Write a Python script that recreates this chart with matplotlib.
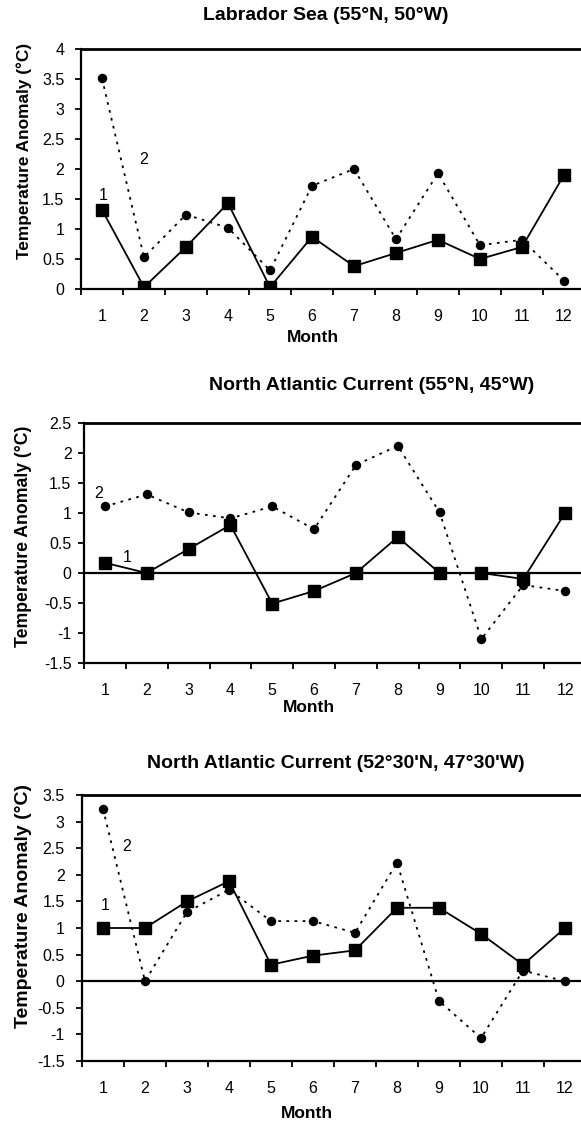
import numpy as np
import matplotlib
matplotlib.use("Agg")
import matplotlib.pyplot as plt

plt.rcParams["font.family"] = ["Liberation Sans", "DejaVu Sans"]
plt.rcParams["axes.unicode_minus"] = False

# --------------------------------------------------
# Data
# --------------------------------------------------
months = [1, 2, 3, 4, 5, 6, 7, 8, 9, 10, 11, 12]
month_labels = ["1", "2", "3", "4", "5", "6", "7", "8", "9", "10", "11", "12"]

titles = [
    "Labrador Sea (55°N, 50°W)",
    "North Atlantic Current (55°N, 45°W)",
    "North Atlantic Current (52°30'N, 47°30'W)",
]

lab_series1 = [1.32, 0.03, 0.70, 1.43, 0.03, 0.87, 0.38, 0.60, 0.82, 0.50, 0.70, 1.90]
lab_series2 = [3.51, 0.53, 1.24, 1.02, 0.31, 1.72, 2.00, 0.83, 1.93, 0.73, 0.82, 0.14]

nac_series1 = [0.17, 0.00, 0.40, 0.80, -0.51, -0.30, 0.00, 0.60, 0.00, 0.00, -0.10, 1.00]
nac_series2 = [1.11, 1.31, 1.01, 0.91, 1.11, 0.73, 1.80, 2.12, 1.01, -1.10, -0.20, -0.30]

nac2_series1 = [1.00, 1.00, 1.50, 1.88, 0.31, 0.48, 0.58, 1.38, 1.38, 0.89, 0.31, 1.00]
nac2_series2 = [3.24, 0.00, 1.30, 1.72, 1.13, 1.13, 0.91, 2.23, -0.37, -1.07, 0.20, 0.00]

ylims = [(0, 4), (-1.5, 2.5), (-1.5, 3.5)]

# --------------------------------------------------
# Layout (pixel positions measured on the 581x1126 reference)
# --------------------------------------------------
W, H = 581, 1126
fig = plt.figure(figsize=(W / 100, H / 100), dpi=100)

# left, right, top, bottom in pixels
boxes = [(81, 585, 49, 289), (84, 586, 423, 663), (82, 586, 795, 1061)]
title_pos = [(326, 15), (372, 385), (336, 763)]
month_pos = [(313, 338), (309, 708), (307, 1113)]
ylab_pos = [(24, 151), (24, 536), (24, 906)]
ylab_size = [12.4, 12.7, 14.0]
ytick_pad = [8, 5, 8.5]
label1_pos = [(1.02, 1.55), (1.54, 0.25), (1.05, 1.42)]
label2_pos = [(2.0, 2.15), (0.85, 1.33), (1.57, 2.54)]

series = [
    (lab_series1, lab_series2),
    (nac_series1, nac_series2),
    (nac2_series1, nac2_series2),
]


def fx(px):
    return px / W


def fy(py):
    return 1 - py / H


for i, (s1, s2) in enumerate(series):
    left, right, top, bottom = boxes[i]
    ax = fig.add_axes([fx(left), fy(bottom), (right - left) / W, (bottom - top) / H])

    ax.plot(months, s2, color="black", lw=1.3, ls=(0, (1.5, 3.0)),
            marker="o", markersize=5.8, markerfacecolor="black",
            markeredgecolor="black", zorder=3)
    ax.plot(months, s1, color="black", lw=1.3, ls="-",
            marker="s", markersize=8.8, markerfacecolor="black",
            markeredgecolor="black", zorder=4)

    lo, hi = ylims[i]
    if lo < 0:
        ax.axhline(0, color="black", lw=1.6, zorder=2)

    ax.set_xlim(0.5, 12.5)
    ax.set_ylim(lo, hi)

    # category style ticks between months, labels under months
    ax.set_xticks(np.arange(0.5, 13.0, 1.0))
    ax.set_xticklabels([])
    ax.set_xticks(months, minor=True)
    ax.set_xticklabels(month_labels, minor=True)
    ax.tick_params(axis="x", which="major", direction="out", length=4, width=1.3)
    ax.tick_params(axis="x", which="minor", length=0, pad=14.5, labelsize=11.5)

    yt = np.arange(lo, hi + 0.01, 0.5)
    ax.set_yticks(yt)
    ax.set_yticklabels(["%g" % v for v in yt])
    ax.tick_params(axis="y", direction="out", length=4, width=1.3,
                   pad=ytick_pad[i], labelsize=11.5)

    ax.spines["right"].set_visible(False)
    ax.spines["top"].set_linewidth(2.0)
    ax.spines["left"].set_linewidth(1.6)
    ax.spines["bottom"].set_linewidth(1.6)

    ax.text(*label1_pos[i], "1", fontsize=11.5, ha="center", va="center")
    ax.text(*label2_pos[i], "2", fontsize=11.5, ha="center", va="center")

    fig.text(fx(title_pos[i][0]), fy(title_pos[i][1]), titles[i],
             fontsize=14, fontweight="bold", ha="center", va="center")
    fig.text(fx(month_pos[i][0]), fy(month_pos[i][1]), "Month",
             fontsize=12.5, fontweight="bold", ha="center", va="center")
    fig.text(fx(ylab_pos[i][0]), fy(ylab_pos[i][1]), "Temperature Anomaly (°C)",
             fontsize=ylab_size[i], fontweight="bold", rotation=90,
             ha="center", va="center")

fig.savefig("out.png", dpi=100)
